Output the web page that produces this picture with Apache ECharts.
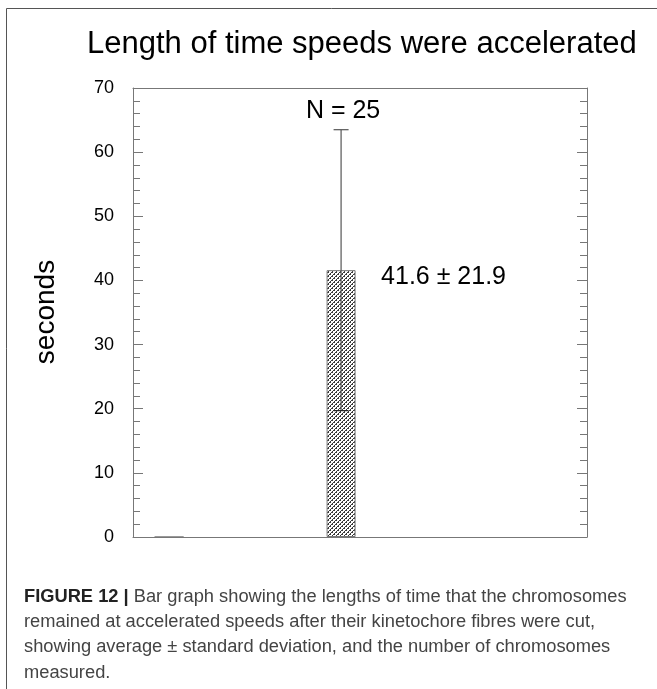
<!DOCTYPE html>
<html>
<head>
<meta charset="utf-8">
<script src="https://cdn.jsdelivr.net/npm/echarts@6/dist/echarts.min.js"></script>
<style>
  html, body { margin: 0; padding: 0; background: #fff; }
  #chart { width: 657px; height: 689px; }
</style>
</head>
<body>
<div id="chart"></div>
<script>
// ---- data ----
const titleText = 'Length of time speeds were accelerated';
const yAxisName = 'seconds';
const xPositions = [1, 2];
const means = [0, 41.6];
const sds = [0, 21.9];
const nLabels = ['', 'N = 25'];
const valueLabels = ['', '41.6 \u00b1 21.9'];
const yTicks = { min: 0, max: 70, interval: 10 };
const captionBold = 'FIGURE 12 | ';
const captionLines = [
  'Bar graph showing the lengths of time that the chromosomes',
  'remained at accelerated speeds after their kinetochore fibres were cut,',
  'showing average \u00b1 standard deviation, and the number of chromosomes',
  'measured.'
];

// ---- hatch pattern ----
function makePattern() {
  const c = document.createElement('canvas');
  c.width = 4; c.height = 4;
  const g = c.getContext('2d');
  g.fillStyle = '#fff'; g.fillRect(0, 0, 4, 4);
  g.fillStyle = '#3a3a3a';
  [[0,0],[1,1],[2,2],[3,3],[3,0],[2,1],[1,2],[0,3]].forEach(p => g.fillRect(p[0], p[1], 1, 1));
  g.fillStyle = '#fff';
  [[1,1],[3,3]].forEach(p => g.fillRect(p[0], p[1], 1, 1));
  return c;
}
const pattern = { image: makePattern(), repeat: 'repeat' };

const FONT = 'Liberation Sans, Arial, Helvetica, sans-serif';
const axisGray = '#777';

const chart = echarts.init(document.getElementById('chart'), null, { renderer: 'canvas' });

const yCommon = {
  type: 'value', min: yTicks.min, max: yTicks.max, interval: yTicks.interval,
  axisLine: { show: true, lineStyle: { color: axisGray, width: 1 } },
  axisTick: { show: true, inside: true, length: 10, lineStyle: { color: axisGray } },
  minorTick: { show: true, splitNumber: 5, length: 7, lineStyle: { color: axisGray } },
  splitLine: { show: false }
};
const xCommon = {
  type: 'value', min: 0.79, max: 3.43,
  axisLine: { show: true, onZero: false, lineStyle: { color: axisGray, width: 1 } },
  axisTick: { show: false }, axisLabel: { show: false }, splitLine: { show: false }
};

const CAP_FS = 18.3;
const captionGraphics = captionLines.map((t, i) => ({
  type: 'text', left: 24, top: 588 + i * 25.2,
  style: i === 0 ? {
    text: '{b|' + captionBold + '}' + t,
    font: CAP_FS + 'px ' + FONT, fill: '#444',
    rich: { b: { fontWeight: 'bold', fontSize: CAP_FS, fontFamily: FONT, fill: '#222' } }
  } : { text: t, font: CAP_FS + 'px ' + FONT, fill: '#444' }
}));

chart.setOption({
  animation: false,
  backgroundColor: '#fff',
  grid: { left: 133, right: 70, top: 88, bottom: 152 },
  xAxis: [
    Object.assign({}, xCommon, { position: 'bottom' }),
    Object.assign({}, xCommon, { position: 'top' })
  ],
  yAxis: [
    Object.assign({}, yCommon, { position: 'left',
      axisLabel: { show: true, color: '#000', fontSize: 18, fontFamily: FONT, margin: 19 } }),
    Object.assign({}, yCommon, { position: 'right', axisLabel: { show: false } })
  ],
  series: [
    {
      type: 'bar', xAxisIndex: 0, yAxisIndex: 0, barWidth: 29, z: 2,
      data: xPositions.map((x, i) => [x, means[i]]),
      itemStyle: { color: pattern, borderColor: axisGray, borderWidth: 1 }
    },
    {
      type: 'custom', xAxisIndex: 0, yAxisIndex: 0, z: 10,
      data: xPositions.map((x, i) => [x, means[i], sds[i], i]),
      renderItem: function (params, api) {
        const x = api.value(0), m = api.value(1), sd = api.value(2), idx = api.value(3);
        if (!sd) return { type: 'group', children: [] };
        const top = api.coord([x, m + sd]);
        const bot = api.coord([x, m - sd]);
        const mid = api.coord([x, m]);
        const cap = 7.5;
        const ls = { stroke: '#555', lineWidth: 1.2 };
        return {
          type: 'group',
          children: [
            { type: 'line', z2: 10, shape: { x1: top[0], y1: top[1], x2: bot[0], y2: bot[1] }, style: ls },
            { type: 'line', z2: 10, shape: { x1: top[0] - cap, y1: top[1], x2: top[0] + cap, y2: top[1] }, style: ls },
            { type: 'line', z2: 10, shape: { x1: bot[0] - cap, y1: bot[1], x2: bot[0] + cap, y2: bot[1] }, style: { stroke: '#222', lineWidth: 1.2 } },
            { type: 'text', x: top[0] + 2, y: top[1] - 19,
              style: { text: nLabels[idx], font: '25px ' + FONT, fill: '#000', align: 'center', verticalAlign: 'middle' } },
            { type: 'text', x: mid[0] + 40, y: mid[1] + 7,
              style: { text: valueLabels[idx], font: '25px ' + FONT, fill: '#000', align: 'left', verticalAlign: 'middle' } }
          ]
        };
      }
    }
  ],
  graphic: [
    { type: 'line', shape: { x1: 6.5, y1: 8.5, x2: 657, y2: 8.5 }, style: { stroke: '#555', lineWidth: 1 } },
    { type: 'line', shape: { x1: 6.5, y1: 8.5, x2: 6.5, y2: 689 }, style: { stroke: '#555', lineWidth: 1 } },
    { type: 'text', x: 87, y: 44,
      style: { text: titleText, font: '31px ' + FONT, fill: '#000', align: 'left', verticalAlign: 'middle' } },
    { type: 'text', x: 46, y: 312, rotation: Math.PI / 2,
      style: { text: yAxisName, font: '28px ' + FONT, fill: '#000', align: 'center', verticalAlign: 'middle' } }
  ].concat(captionGraphics)
});
</script>
</body>
</html>
